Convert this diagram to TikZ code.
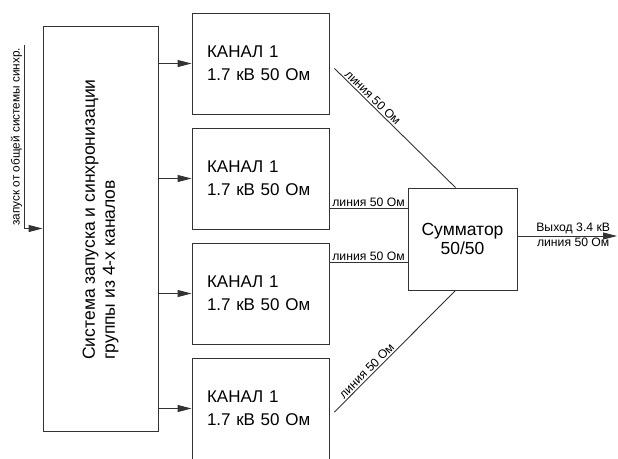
\documentclass[tikz,border=0pt]{standalone}
\usepackage{fontspec}
\setmainfont{Liberation Sans}
\usetikzlibrary{positioning,calc,arrows.meta}

\begin{document}
\begin{tikzpicture}[x=1pt,y=-1pt,
		block/.style={draw=black!80,line width=0.9pt,rectangle},
		chan/.style={block,minimum width=137pt,minimum height=101pt,text width=107pt,inner xsep=15pt,align=left,font=\fontsize{17}{23}\selectfont},
		wire/.style={draw=black!80,line width=0.9pt},
		arr/.style={wire,-{Triangle[length=14pt,width=7pt]}},
		lbl/.style={font=\fontsize{12.2}{13}\selectfont,inner sep=1.5pt}]
		\useasboundingbox (0,0) rectangle (618,458);
		\clip (0,0) rectangle (618,458);
		%Blocks
		\node[block,minimum width=115pt,minimum height=405pt] (sys) at (100.5,228.5) {};
		\node[rotate=90,align=left,font=\fontsize{17.5}{20}\selectfont] (systext) at ($(sys.center)+(0,-9)$) {Система запуска и синхронизации\\группы из 4-х каналов};
		\foreach \i/\y in {1/63.5,2/178.5,3/293.5,4/408.5}
			\node[chan] (ch\i) at (260.5,\y) {КАНАЛ 1\\1.7 кВ 50 Ом};
		\node[block,minimum width=109pt,minimum height=102pt,align=center,font=\fontsize{17.5}{19}\selectfont] (sum) at (462.5,239) {Сумматор\\50/50};
		%Sync input
		\coordinate (sync) at (24,45);
		\draw[arr] (sync) |- (sys.west) node[pos=0.25,rotate=90,anchor=south,inner sep=1.5pt,font=\fontsize{11.8}{13}\selectfont] {запуск от общей системы синхр.};
		%Channels
		\foreach \i in {1,...,4}
			\draw[arr] (sys.east |- ch\i.west) -- (ch\i.west);
		%Lines to summator
		\coordinate (in2) at ($(sum.north west)!0.2!(sum.south west)$);
		\coordinate (in3) at ($(sum.north west)!0.73!(sum.south west)$);
		\draw[wire] (ch2.east |- in2) -- node[above,lbl] {линия 50 Ом} (in2);
		\draw[wire] (ch3.east |- in3) -- node[above,lbl] {линия 50 Ом} (in3);
		\draw[wire,shorten <=7pt] (ch1.east) -- node[above,sloped,lbl,pos=0.31] {линия 50 Ом} ([xshift=-7pt]sum.north);
		\draw[wire,shorten <=7pt] ($(ch4.east)+(0,8.5)$) -- node[above,sloped,lbl,pos=0.33] {линия 50 Ом} ([xshift=-7pt]sum.south);
		%Output
		\coordinate (out) at (617,236);
		\draw[arr] (sum.east |- out) -- node[above,lbl,pos=0.56] {Выход 3.4 кВ} node[below,lbl,pos=0.56] {линия 50 Ом} (out);
\end{tikzpicture}
\end{document}
